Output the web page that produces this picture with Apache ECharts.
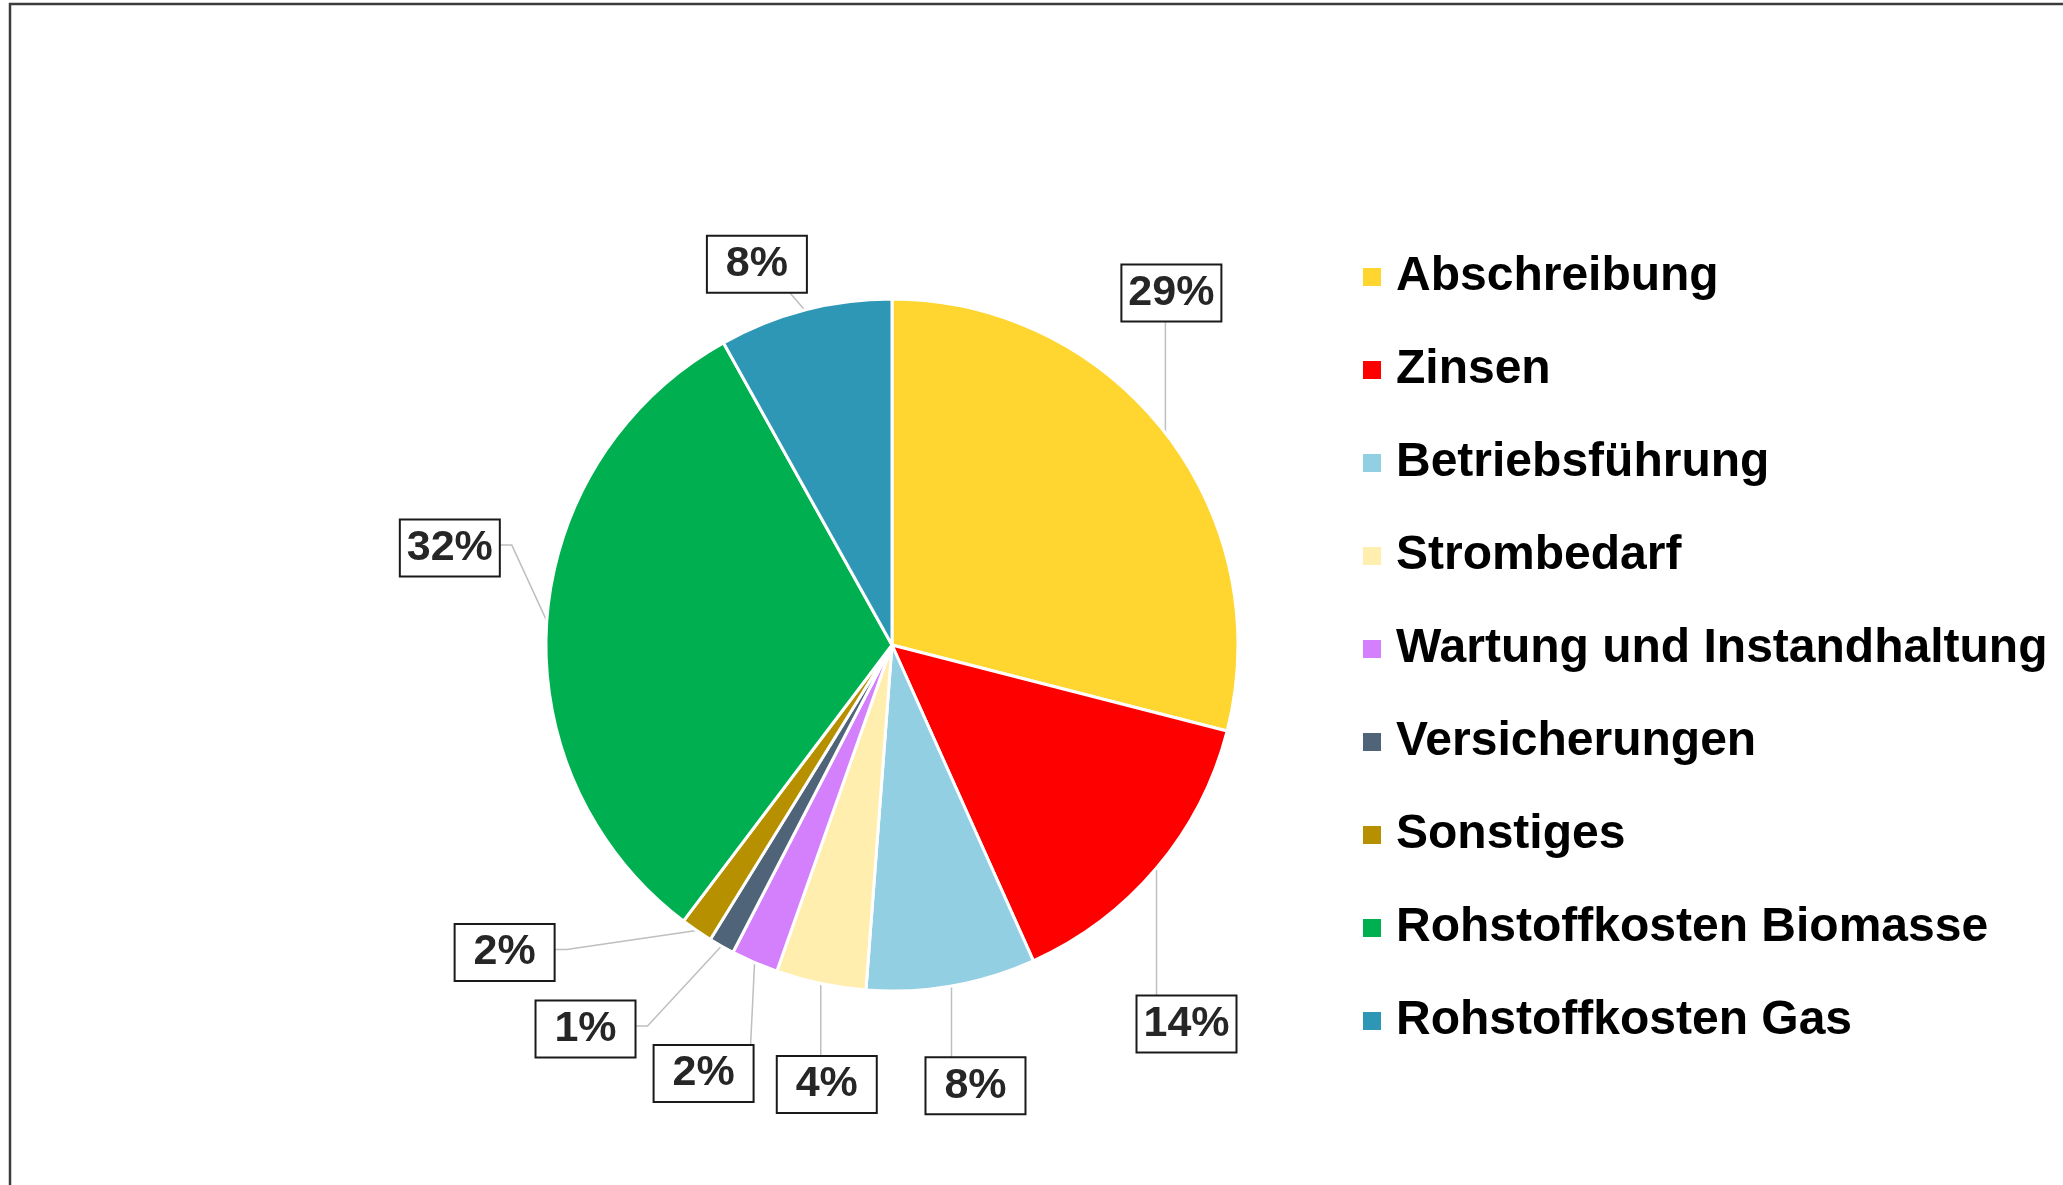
<!DOCTYPE html>
<html>
<head>
<meta charset="utf-8">
<script src="https://cdn.jsdelivr.net/npm/echarts@6/dist/echarts.min.js"></script>
<style>
  html, body { margin: 0; padding: 0; background: #fff; }
  #chart { width: 2063px; height: 1185px; }
</style>
</head>
<body>
<div id="chart"></div>
<script>
// Kostenanteile (in %)
const categories = [
  'Abschreibung', 'Zinsen', 'Betriebsführung', 'Strombedarf',
  'Wartung und Instandhaltung', 'Versicherungen', 'Sonstiges',
  'Rohstoffkosten Biomasse', 'Rohstoffkosten Gas'
];
const values = [29.0, 14.3, 7.9, 4.2, 2.2, 1.2, 1.5, 31.6, 8.1];
const colors = [
  '#ffd530', '#ff0000', '#93cfe2', '#ffeeae', '#d480fd',
  '#4f6479', '#b79000', '#00b050', '#2f97b6'
];

// where each label box sits relative to its slice edge point, and how its leader runs
const labelOffsets = [
  [6, -140, 'up'], [30, 156, 'down'], [24, 100, 'down'], [6, 101, 'down'],
  [-51, 111, 'down'], [-136, 83, 'side'], [-192, 22, 'side'],
  [-97, -73, 'side'], [-48, -46, 'corner']
];
const BOX_W = 100, BOX_H = 57;

const chart = echarts.init(document.getElementById('chart'));

const option = {
  animation: false,
  backgroundColor: '#fff',
  graphic: [{
    type: 'rect',
    shape: { x: 10, y: 4, width: 2200, height: 1400 },
    style: { fill: 'none', stroke: '#3c3c3c', lineWidth: 2.5 },
    silent: true
  }],
  legend: {
    orient: 'vertical',
    left: 1356,
    top: 248,
    icon: 'rect',
    itemWidth: 20,
    itemHeight: 20,
    itemGap: 45,
    data: categories,
    textStyle: {
      fontFamily: 'Liberation Sans, Arial, sans-serif',
      fontWeight: 'bold',
      fontSize: 48,
      lineHeight: 48,
      color: '#000',
      padding: [0, 0, 0, 9]
    }
  },
  series: [{
    type: 'pie',
    center: [892, 645],
    radius: 346,
    startAngle: 90,
    clockwise: true,
    avoidLabelOverlap: false,
    itemStyle: { borderColor: '#fff', borderWidth: 3 },
    label: {
      show: true,
      position: 'outside',
      formatter: p => Math.round(p.percent) + '%',
      fontFamily: 'Liberation Sans, Arial, sans-serif',
      fontWeight: 'bold',
      fontSize: 43,
      color: '#262626',
      backgroundColor: '#fff',
      borderColor: '#1a1a1a',
      borderWidth: 2,
      width: BOX_W - 2,
      height: BOX_H - 2,
      lineHeight: BOX_H - 2,
      align: 'center',
      verticalAlign: 'middle'
    },
    labelLine: {
      show: true,
      length: 20,
      length2: 10,
      lineStyle: { color: '#bfbfbf', width: 1.5 }
    },
    labelLayout: function (params) {
      const pts = params.labelLinePoints;
      if (!pts) return {};
      const ex = pts[0][0], ey = pts[0][1];
      const o = labelOffsets[params.dataIndex];
      const bx = ex + o[0], by = ey + o[1];
      let line;
      if (o[2] === 'up') {
        line = [[ex, ey], [ex, by + BOX_H / 2]];
      } else if (o[2] === 'down') {
        const lx = Math.min(ex, bx + BOX_W / 2 - 3);
        line = [[ex, ey], [lx, by - BOX_H / 2]];
      } else if (o[2] === 'side') {
        line = [[ex, ey], [bx + BOX_W / 2 + 12, by - 3], [bx + BOX_W / 2, by - 3]];
      } else {
        line = [[ex, ey], [bx + 33, by + BOX_H / 2]];
      }
      return {
        x: bx,
        y: by,
        align: 'center',
        verticalAlign: 'middle',
        labelLinePoints: line
      };
    },
    data: categories.map((name, i) => ({
      name: name,
      value: values[i],
      itemStyle: { color: colors[i] }
    }))
  }]
};

chart.setOption(option);
</script>
</body>
</html>
